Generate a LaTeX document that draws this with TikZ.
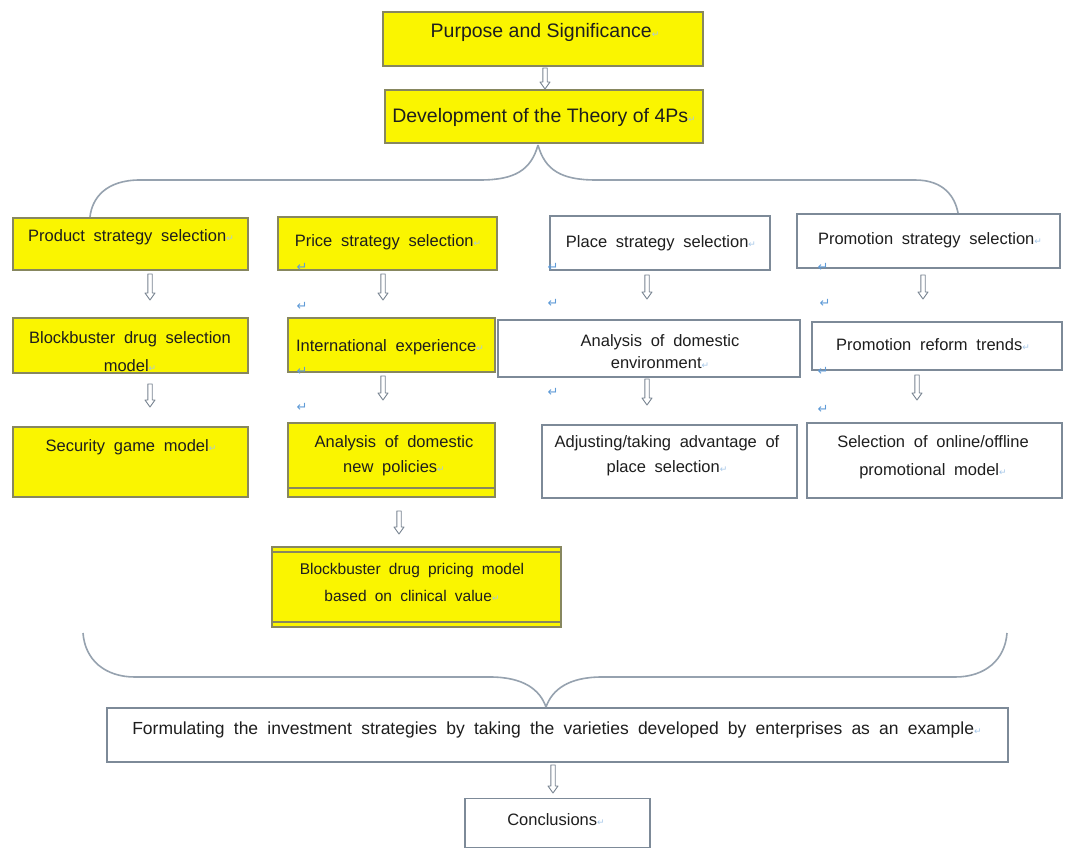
\documentclass[tikz,border=0pt]{standalone}
\usepackage{fontspec}
\setmainfont{Liberation Sans}
\newfontfamily\widefam{Liberation Sans}[WordSpace=1.9]
\newfontfamily\djv{DejaVu Sans}
\usetikzlibrary{calc}
\definecolor{yel}{RGB}{250,245,0}
\definecolor{ybord}{RGB}{135,135,95}
\definecolor{wbord}{RGB}{125,138,152}
\definecolor{lnc}{RGB}{150,162,175}
\definecolor{arc}{RGB}{120,132,145}
\definecolor{txtc}{RGB}{30,30,30}
\definecolor{retc}{RGB}{95,155,215}
\newcommand{\rmk}{{\djv\fontsize{9}{9}\selectfont\color{retc!55}↵}}
\newcommand{\harr}[2]{\draw[harrow] ($(#1)+(-2.2,0)$) -- ($(#2)+(-2.2,-7)$) -- ($(#2)+(-5,-7)$) -- (#2) -- ($(#2)+(5,-7)$) -- ($(#2)+(2.2,-7)$) -- ($(#1)+(2.2,0)$) -- cycle;}
\tikzset{
  ybox/.style={draw=ybord, fill=yel, line width=1.6pt, inner sep=0pt},
  wbox/.style={draw=wbord, fill=white, line width=1.6pt, inner sep=0pt},
  txt/.style={text=txtc, font=\widefam\fontsize{16.5}{26}\selectfont, align=center, inner sep=0pt},
  bigtxt/.style={text=txtc, font=\fontsize{19.5}{22}\selectfont, inner sep=0pt},
  harrow/.style={draw=arc, fill=white, line width=0.9pt, line join=round},
  brace/.style={draw=lnc, line width=1.6pt},
  ret/.style={text=retc, font=\djv\fontsize{13}{13}\selectfont, inner sep=0pt},
}
\begin{document}
\begin{tikzpicture}[x=1pt, y=-1pt]
\useasboundingbox (0,0) rectangle (1089,850);
\fill[white] (0,0) rectangle (1089,850);

% boxes
\node[ybox, minimum width=320pt, minimum height=54pt] (purp) at (543,39) {};
\node[ybox, minimum width=318pt, minimum height=53pt] (dev) at (544,116.5) {};
\node[ybox, minimum width=235pt, minimum height=52pt] (prod) at (130.5,244) {};
\node[ybox, minimum width=219pt, minimum height=53pt] (price) at (387.5,243.5) {};
\node[wbox, minimum width=220pt, minimum height=54pt] (place) at (660,243) {};
\node[wbox, minimum width=263pt, minimum height=54pt] (promo) at (928.5,241) {};
\node[ybox, minimum width=235pt, minimum height=55pt] (bsel) at (130.5,345.5) {};
\node[ybox, minimum width=207pt, minimum height=54pt] (intl) at (391.5,345) {};
\node[wbox, minimum width=302pt, minimum height=57pt] (env) at (649,348.5) {};
\node[wbox, minimum width=250pt, minimum height=48pt] (reform) at (937,346) {};
\node[ybox, minimum width=235pt, minimum height=70pt] (secu) at (130.5,462) {};
\node[ybox, minimum width=207pt, minimum height=74pt] (npol) at (391.5,460) {};
\node[wbox, minimum width=255pt, minimum height=73pt] (adj) at (669.5,461.5) {};
\node[wbox, minimum width=255pt, minimum height=75pt] (onl) at (934.5,460.5) {};
\node[ybox, minimum width=289pt, minimum height=80pt] (pric) at (416.5,587) {};
\node[wbox, minimum width=901pt, minimum height=54pt] (form) at (557.5,735) {};
\node[wbox, minimum width=185pt, minimum height=49pt] (conc) at (557.5,823) {};

% inner double lines
\draw[draw=ybord, line width=1.2pt] (npol.west |- 0,488) -- (npol.east |- 0,488);
\draw[draw=ybord, line width=1.2pt] (pric.west |- 0,552) -- (pric.east |- 0,552);
\draw[draw=ybord, line width=1.2pt] (pric.west |- 0,622) -- (pric.east |- 0,622);

% texts
\node[bigtxt] (t1) at (545,32) {Purpose and Significance\rmk};
\node[bigtxt] (t2) at (544,117) {Development of the Theory of 4Ps\rmk};
\node[txt] (t3) at (131,237) {Product strategy selection\rmk};
\node[txt] (t4) at (388,242) {Price strategy selection\rmk};
\node[txt] (t5) at (661,243) {Place strategy selection\rmk};
\node[txt] (t6) at (930,240) {Promotion strategy selection\rmk};
\node[txt, font=\widefam\fontsize{16.5}{28}\selectfont] (t7) at (130,352) {Blockbuster drug selection\\model\rmk};
\node[txt] (t8) at (390,347) {International experience\rmk};
\node[txt, font=\widefam\fontsize{16.5}{22}\selectfont] (t9) at (660,352) {Analysis of domestic\\environment\rmk};
\node[txt] (t10) at (933,345) {Promotion reform trends\rmk};
\node[txt] (t11) at (131,447) {Security game model\rmk};
\node[txt, font=\widefam\fontsize{16.5}{25}\selectfont] (t12) at (394,456) {Analysis of domestic\\new policies\rmk};
\node[txt, font=\widefam\fontsize{16.5}{25}\selectfont] (t13) at (667,456) {Adjusting/taking advantage of\\place selection\rmk};
\node[txt, font=\widefam\fontsize{16.5}{28}\selectfont] (t14) at (933,457) {Selection of online/offline\\promotional model\rmk};
\node[txt, font=\widefam\fontsize{15.5}{27}\selectfont] (t15) at (412,582) {Blockbuster drug pricing model\\based on clinical value\rmk};
\node[txt, font=\widefam\fontsize{17.5}{26}\selectfont] (t16) at (557,730) {Formulating the investment strategies by taking the varieties developed by enterprises as an example\rmk};
\node[txt] (t17) at (556,820) {Conclusions\rmk};

% return marks
\node[ret] (r1) at (302,267) {↵};
\node[ret] (r2) at (302,306) {↵};
\node[ret] (r3) at (553,267) {↵};
\node[ret] (r4) at (553,303) {↵};
\node[ret] (r5) at (823,267) {↵};
\node[ret] (r6) at (825,303) {↵};
\node[ret] (r7) at (302,371) {↵};
\node[ret] (r8) at (302,407) {↵};
\node[ret] (r9) at (553,392) {↵};
\node[ret] (r10) at (823,371) {↵};
\node[ret] (r11) at (823,409) {↵};

% hollow arrows
\coordinate (a0t) at (545,68);  \coordinate (a0b) at (545,89);
\coordinate (a1t) at (150,274); \coordinate (a1b) at (150,300);
\coordinate (a2t) at (383,274); \coordinate (a2b) at (383,300);
\coordinate (a3t) at (647,275); \coordinate (a3b) at (647,299);
\coordinate (a4t) at (923,275); \coordinate (a4b) at (923,299);
\coordinate (a5t) at (150,384); \coordinate (a5b) at (150,407);
\coordinate (a6t) at (383,376); \coordinate (a6b) at (383,400);
\coordinate (a7t) at (647,379); \coordinate (a7b) at (647,405);
\coordinate (a8t) at (917,375); \coordinate (a8b) at (917,400);
\coordinate (a9t) at (399,511); \coordinate (a9b) at (399,534);
\coordinate (a10t) at (553,765); \coordinate (a10b) at (553,793);
\harr{a0t}{a0b}
\harr{a1t}{a1b}
\harr{a2t}{a2b}
\harr{a3t}{a3b}
\harr{a4t}{a4b}
\harr{a5t}{a5b}
\harr{a6t}{a6b}
\harr{a7t}{a7b}
\harr{a8t}{a8b}
\harr{a9t}{a9b}
\harr{a10t}{a10b}

% braces
\coordinate (tb) at (538,145);
\coordinate (tl) at (90,217);
\coordinate (tr) at (958,213);
\draw[brace] (tb) .. controls (531,170) and (515,180) .. (480,180) -- (140,180) .. controls (106,180) and (92,198) .. (tl);
\draw[brace] (tb) .. controls (545,170) and (561,180) .. (596,180) -- (915,180) .. controls (944,180) and (955,197) .. (tr);
\coordinate (bb) at (546,707);
\coordinate (bl) at (83,633);
\coordinate (br) at (1007,633);
\draw[brace] (bl) .. controls (85,660) and (105,677) .. (135,677) -- (490,677) .. controls (524,677) and (540,690) .. (bb);
\draw[brace] (bb) .. controls (552,690) and (568,677) .. (602,677) -- (955,677) .. controls (985,677) and (1005,660) .. (br);
\end{tikzpicture}
\end{document}
